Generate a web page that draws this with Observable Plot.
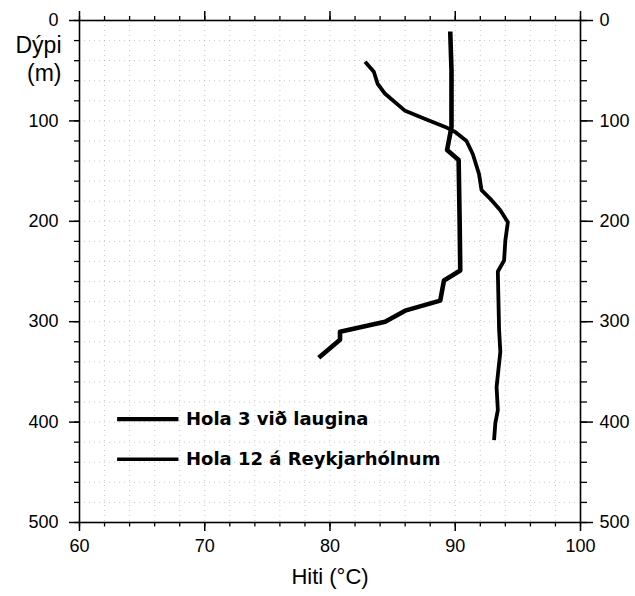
<!DOCTYPE html>
<html>
<head>
<meta charset="utf-8">
<script src="https://cdn.jsdelivr.net/npm/d3@7"></script>
<script src="https://cdn.jsdelivr.net/npm/@observablehq/plot@0.6"></script>
<style>
  html, body { margin: 0; padding: 0; background: #fff; }
  #chart svg { display: block; }
</style>
</head>
<body>
<div id="chart"></div>
<script>
// Hola 3 við laugina: temperature (°C) and depth (m)
const hola3Temp  = [89.6, 89.7, 89.7, 89.7, 89.35, 90.27, 90.35, 90.4, 89.1, 88.8, 86.0, 84.4, 80.8, 80.8, 79.1];
const hola3Depth = [11,   50,   80,   106,  129,   139,   200,   249,  259,  279,  289,  300,  310,  318,  336];

// Hola 12 á Reykjarhólnum
const hola12Temp  = [82.8, 83.5, 83.8, 84.4, 86.0, 87.6, 89.2, 90.0, 90.9, 91.4, 91.9, 92.1, 92.9, 93.6, 94.2, 94.0, 93.9, 93.4, 93.45, 93.5, 93.6, 93.3, 93.4, 93.2, 93.1];
const hola12Depth = [41,   51,   63,   73,   90,   98,   106,  111,  120,  133,  153,  169,  179,  189,  201,  219,  239,  250,  279,   308,  330,  365,  388,  401,  418];

const seriesNames = ["Hola 3 við laugina", "Hola 12 á Reykjarhólnum"];
const seriesWidths = [4.6, 3.8];

const xMajorTicks = [60, 70, 80, 90, 100];
const xMinorTicks = d3.range(60, 101, 2);
const yMajorTicks = [0, 100, 200, 300, 400, 500];
const yMinorTicks = d3.range(0, 501, 20);

// legend sample placement (data units)
const legendX1 = 63.0, legendX2 = 67.9, legendTextX = 68.5;
const legendDepths = [397, 437];
const legendLineWidths = [4.2, 3.4];

const hola3 = hola3Temp.map((t, i) => ({t, d: hola3Depth[i]}));
const hola12 = hola12Temp.map((t, i) => ({t, d: hola12Depth[i]}));
const legend = seriesNames.map((name, i) => ({name, d: legendDepths[i], w: legendLineWidths[i]}));

const blank = () => "";
const chart = Plot.plot({
  width: 635,
  height: 596,
  marginLeft: 79,
  marginRight: 55,
  marginTop: 20,
  marginBottom: 74,
  style: {fontFamily: "'Liberation Sans', Arial, Helvetica, sans-serif", fontSize: "18px", color: "black", background: "white"},
  x: {domain: [60, 100]},
  y: {domain: [0, 500], reverse: true},
  marks: [
    Plot.gridX(xMinorTicks, {stroke: "#888", strokeOpacity: 0.45, strokeDasharray: "1,4"}),
    Plot.gridY(yMinorTicks, {stroke: "#888", strokeOpacity: 0.45, strokeDasharray: "1,4"}),
    Plot.axisX(xMajorTicks, {anchor: "bottom", tickSize: 9, tickPadding: 8, strokeWidth: 1.5, label: null, fontSize: 18}),
    Plot.axisX(xMinorTicks, {anchor: "bottom", tickSize: 4.5, strokeWidth: 1.3, tickFormat: blank, label: null}),
    Plot.axisX(xMajorTicks, {anchor: "top", tickSize: 10, strokeWidth: 1.5, tickFormat: blank, label: null}),
    Plot.axisX(xMinorTicks, {anchor: "top", tickSize: 5, strokeWidth: 1.3, tickFormat: blank, label: null}),
    Plot.axisY(yMajorTicks, {anchor: "left", tickSize: 10, tickPadding: 11, strokeWidth: 1.5, label: null, fontSize: 18}),
    Plot.axisY(yMinorTicks, {anchor: "left", tickSize: 5, strokeWidth: 1.3, tickFormat: blank, label: null}),
    Plot.axisY(yMajorTicks, {anchor: "right", tickSize: 12, tickPadding: 7, strokeWidth: 1.5, label: null, fontSize: 18}),
    Plot.axisY(yMinorTicks, {anchor: "right", tickSize: 6, strokeWidth: 1.3, tickFormat: blank, label: null}),
    Plot.frame({stroke: "black", strokeWidth: 1.6}),
    Plot.line(hola3, {x: "t", y: "d", stroke: "black", strokeWidth: seriesWidths[0], strokeLinejoin: "round", strokeLinecap: "butt"}),
    Plot.line(hola12, {x: "t", y: "d", stroke: "black", strokeWidth: seriesWidths[1], strokeLinejoin: "round", strokeLinecap: "butt"}),
    Plot.link(legend, {x1: () => legendX1, x2: () => legendX2, y1: "d", y2: "d", stroke: "black", strokeWidth: "w"}),
    Plot.text(legend, {x: () => legendTextX, y: "d", text: "name", textAnchor: "start", fontWeight: "bold", fontSize: 18, fontFamily: "'DejaVu Sans', sans-serif"}),
    Plot.text(["Hiti (°C)"], {text: d => d, frameAnchor: "bottom", dy: 61, fontSize: 22}),
    Plot.text(["Dýpi\n(m)"], {text: d => d, frameAnchor: "top-left", textAnchor: "end", lineAnchor: "top", dx: -18, dy: 13, fontSize: 23, lineHeight: 1.22})
  ]
});
document.getElementById("chart").appendChild(chart);
</script>
</body>
</html>
